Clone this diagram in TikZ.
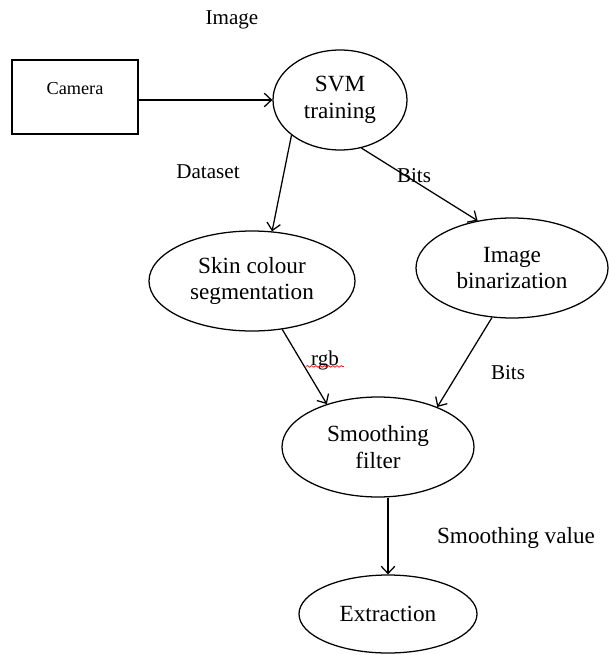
\documentclass[tikz,border=0pt]{standalone}
\usepackage{fontspec}
\setmainfont{Liberation Serif}
\usepackage{tikz}
\usetikzlibrary{shapes.geometric,decorations.pathmorphing,arrows.meta}

\begin{document}
\begin{tikzpicture}[scale=1,
		font=\fontsize{15}{17}\selectfont,
		blob/.style={ellipse, draw=black!100, line width=0.9pt, align=center, inner sep=0pt, font=\fontsize{16.5}{19}\selectfont},
		flow/.style={-{Straight Barb[length=1.8mm, width=3.4mm]}, line width=0.9pt}]
				\useasboundingbox (0.00, 0.00) rectangle (15.225, -16.375);

				\node[draw=black!100, line width=0.9pt, minimum width=3.15cm, minimum height=1.85cm, text depth=0.45cm, font=\fontsize{13}{15}\selectfont] (node0) at (1.875, -2.425) {Camera};
				\node[blob, minimum width=3.35cm, minimum height=2.50cm] (node1) at (8.50, -2.50) {SVM\\training};
				\node[blob, minimum width=5.15cm, minimum height=2.50cm] (node2) at (6.30, -7.025) {Skin colour\\segmentation};
				\node[blob, minimum width=4.80cm, minimum height=2.50cm] (node3) at (12.80, -6.70) {Image\\binarization};
				\node[blob, minimum width=4.80cm, minimum height=2.50cm] (node4) at (9.45, -11.175) {Smoothing\\filter};
				\node[blob, minimum width=4.45cm, minimum height=1.95cm] (node5) at (9.70, -15.35) {Extraction};

				\node (label0) at (5.80, -0.50) {Image};
				\node (label1) at (5.20, -4.30) {Dataset};
				\node (label2) at (10.35, -4.40) {Bits};
				\node (label3) at (8.125, -9.00) {rgb};
				\node (label4) at (12.70, -9.325) {Bits};
				\node[font=\fontsize{16.5}{19}\selectfont] (label5) at (12.90, -13.45) {Smoothing value};
				\draw[red, line width=0.5pt, decorate, decoration={snake, amplitude=0.6pt, segment length=3pt}] ([yshift=-1pt]label3.base west) -- ([yshift=-1pt]label3.base east);

				\draw[flow] (node0.east |- node1.west) -- (node1.west);
				\draw[flow] (node1.216) -- (node2.68);
				\draw[flow] (node1.294) -- (node3.126);
				\draw[flow] (node2.302) -- (node4.140);
				\draw[flow] (node3.248) -- (node4.34);
				\draw[flow] (node4.south -| node5.north) -- (node5.north);
			\end{tikzpicture}
\end{document}
